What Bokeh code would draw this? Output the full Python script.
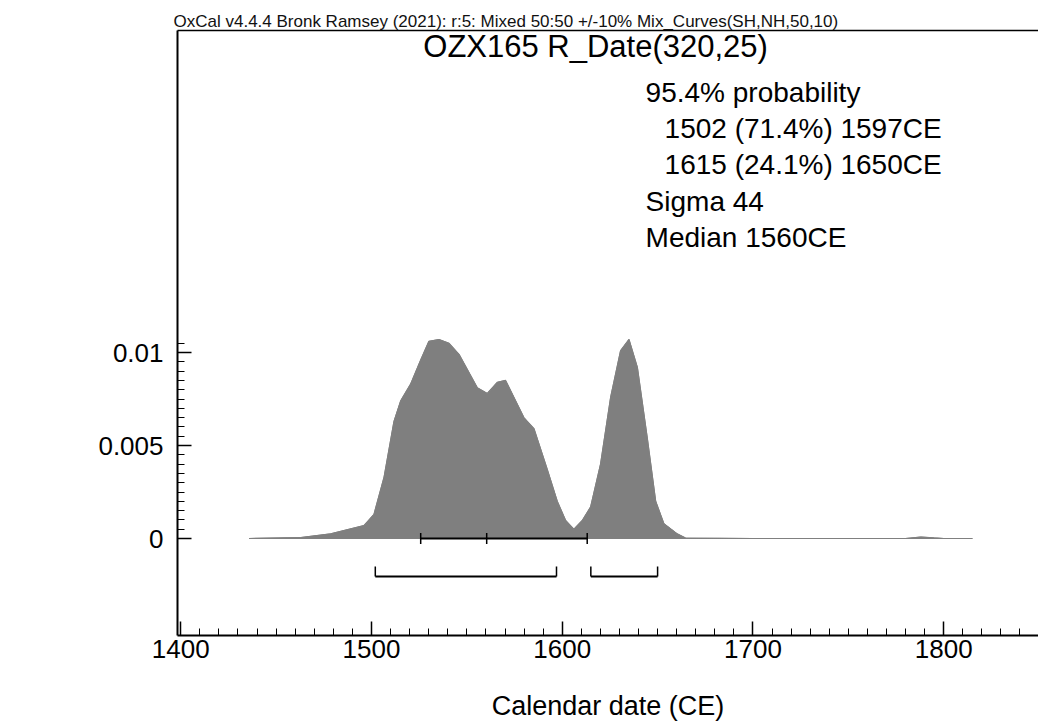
import numpy as np
from bokeh.plotting import figure
from bokeh.models import Range1d, LinearAxis, FixedTicker, Label
from bokeh.embed import file_html
from bokeh.resources import INLINE

# ---- data ----
years = [1435.8, 1462.9, 1478.6, 1496.1, 1501.3, 1506.6, 1511.8, 1515.3, 1520.5,
         1525.8, 1530.1, 1535.4, 1540.6, 1545.9, 1555.5, 1560.7, 1566.0, 1570.3,
         1579.9, 1585.2, 1592.2, 1597.4, 1601.8, 1606.1, 1610.5, 1614.9, 1620.1,
         1625.4, 1630.6, 1635.0, 1639.4, 1644.6, 1649.0, 1653.3, 1660.3, 1664.7,
         1700.0, 1780.0, 1788.0, 1795.0, 1800.0, 1815.0]
density = [0.0, 0.00005, 0.00025, 0.0007, 0.0013, 0.0033, 0.0063, 0.0074, 0.0083,
           0.0096, 0.0106, 0.0107, 0.0105, 0.0099, 0.0081, 0.0078, 0.0084, 0.0085,
           0.0065, 0.0059, 0.0037, 0.0020, 0.00097, 0.0005, 0.00097, 0.0017, 0.0040,
           0.0076, 0.0101, 0.0107, 0.0092, 0.0054, 0.0020, 0.0008, 0.00025, 0.00002,
           0.0, 0.0, 0.00008, 0.00003, 0.0, 0.0]

range_from = [1502, 1615]
range_to = [1597, 1650]
sigma_low, median, sigma_high = 1525.8, 1560.4, 1613.1

x_major = [1400, 1500, 1600, 1700, 1800]
x_minor = list(range(1400, 1850, 10))
y_major = [0, 0.005, 0.01]
y_minor = [i * 0.0005 for i in range(0, 22)]

header = "OxCal v4.4.4 Bronk Ramsey (2021): r:5: Mixed 50:50 +/-10% Mix_Curves(SH,NH,50,10)"
title_txt = "OZX165 R_Date(320,25)"
stats = ["95.4% probability",
         "1502 (71.4%) 1597CE",
         "1615 (24.1%) 1650CE",
         "Sigma 44",
         "Median 1560CE"]
stats_indent = [0, 1, 1, 0, 0]

FONT = "Liberation Sans"

# ---- figure ----
x0, x1 = 1398.3, 1849.7
y0, y1 = -0.005215, 0.027312
p = figure(width=1038, height=724, output_backend="svg", toolbar_location=None,
           x_range=Range1d(x0, x1), y_range=Range1d(y0, y1),
           min_border_left=177, min_border_right=0, min_border_top=30,
           min_border_bottom=89)
p.outline_line_color = None
p.grid.visible = False
p.background_fill_color = "white"

# header as title
p.title.text = header
p.title.text_font = FONT
p.title.text_font_size = "17px"
p.title.text_font_style = "normal"
p.title.text_color = "#111111"
p.title.align = "left"
p.title.offset = -4
p.title.standoff = 0

xa = p.below[0]
ya = p.left[0]

# top frame line
top = LinearAxis(ticker=FixedTicker(ticks=[]), major_label_text_font_size="0px",
                 major_label_standoff=0, major_tick_in=0, major_tick_out=0,
                 minor_tick_in=0, minor_tick_out=0, axis_line_width=1.5,
                 axis_line_color="black")
p.add_layout(top, "above")

# x axis
xa.ticker = FixedTicker(ticks=x_major, minor_ticks=x_minor)
xa.major_tick_in = 14
xa.major_tick_out = 0
xa.minor_tick_in = 7
xa.minor_tick_out = 0
xa.axis_line_width = 2
xa.major_tick_line_width = 1.5
xa.minor_tick_line_width = 1
xa.major_label_text_font = FONT
xa.major_label_text_font_size = "26px"
xa.major_label_text_color = "black"
xa.major_label_standoff = 4
xa.axis_label = "Calendar date (CE)"
xa.axis_label_text_font = FONT
xa.axis_label_text_font_size = "27px"
xa.axis_label_text_font_style = "normal"
xa.axis_label_text_color = "black"
xa.axis_label_standoff = 30

# y axis
ya.ticker = FixedTicker(ticks=y_major, minor_ticks=y_minor)
ya.major_label_overrides = {0: "0", 0.005: "0.005", 0.01: "0.01"}
ya.major_tick_in = 14
ya.major_tick_out = 0
ya.minor_tick_in = 7
ya.minor_tick_out = 0
ya.axis_line_width = 2
ya.major_tick_line_width = 1.5
ya.major_label_text_font = FONT
ya.major_label_text_font_size = "26px"
ya.major_label_text_color = "black"
ya.major_label_standoff = 14

# density
p.patch(years + [years[-1], years[0]], density + [0, 0],
        fill_color="#7f7f7f", line_color="#7f7f7f", line_width=1)
p.line(years, density, line_color="#808080", line_width=1.2)

# sigma / median bar on baseline
dy = 0.0003
p.segment(x0=[sigma_low], y0=[0], x1=[sigma_high], y1=[0], line_color="black", line_width=2)
p.segment(x0=[sigma_low, median, sigma_high], y0=[-dy] * 3,
          x1=[sigma_low, median, sigma_high], y1=[dy] * 3, line_color="black", line_width=1.5)

# 95.4% ranges
ry = -0.00204
rt = -0.00150
p.segment(x0=range_from, y0=[ry] * 2, x1=range_to, y1=[ry] * 2, line_color="black", line_width=2)
p.segment(x0=range_from + range_to, y0=[ry] * 4, x1=range_from + range_to, y1=[rt] * 4,
          line_color="black", line_width=1.5)

# pixel -> data helpers for annotation placement
def dx(px):
    return 1400 + (px - 180) / 1.908

def dyv(py):
    return (538 - py) / 18600.0

p.add_layout(Label(x=dx(595), y=dyv(46), text=title_txt, text_font=FONT,
                   text_font_size="31px", text_align="center", text_baseline="middle",
                   text_color="black"))
lines_y = [92, 128, 164, 201, 237]
for s, ind, py in zip(stats, stats_indent, lines_y):
    p.add_layout(Label(x=dx(645 + 19 * ind), y=dyv(py), text=s, text_font=FONT,
                       text_font_size="28px", text_align="left", text_baseline="middle",
                       text_color="black"))

p.add_layout(Label(x=dx(24), y=dyv(439), text="Probability density", text_font=FONT,
                   text_font_size="26px", text_align="center", text_baseline="middle",
                   angle=np.pi / 2, text_color="black"))

open("out.html", "w").write(file_html(p, INLINE))
